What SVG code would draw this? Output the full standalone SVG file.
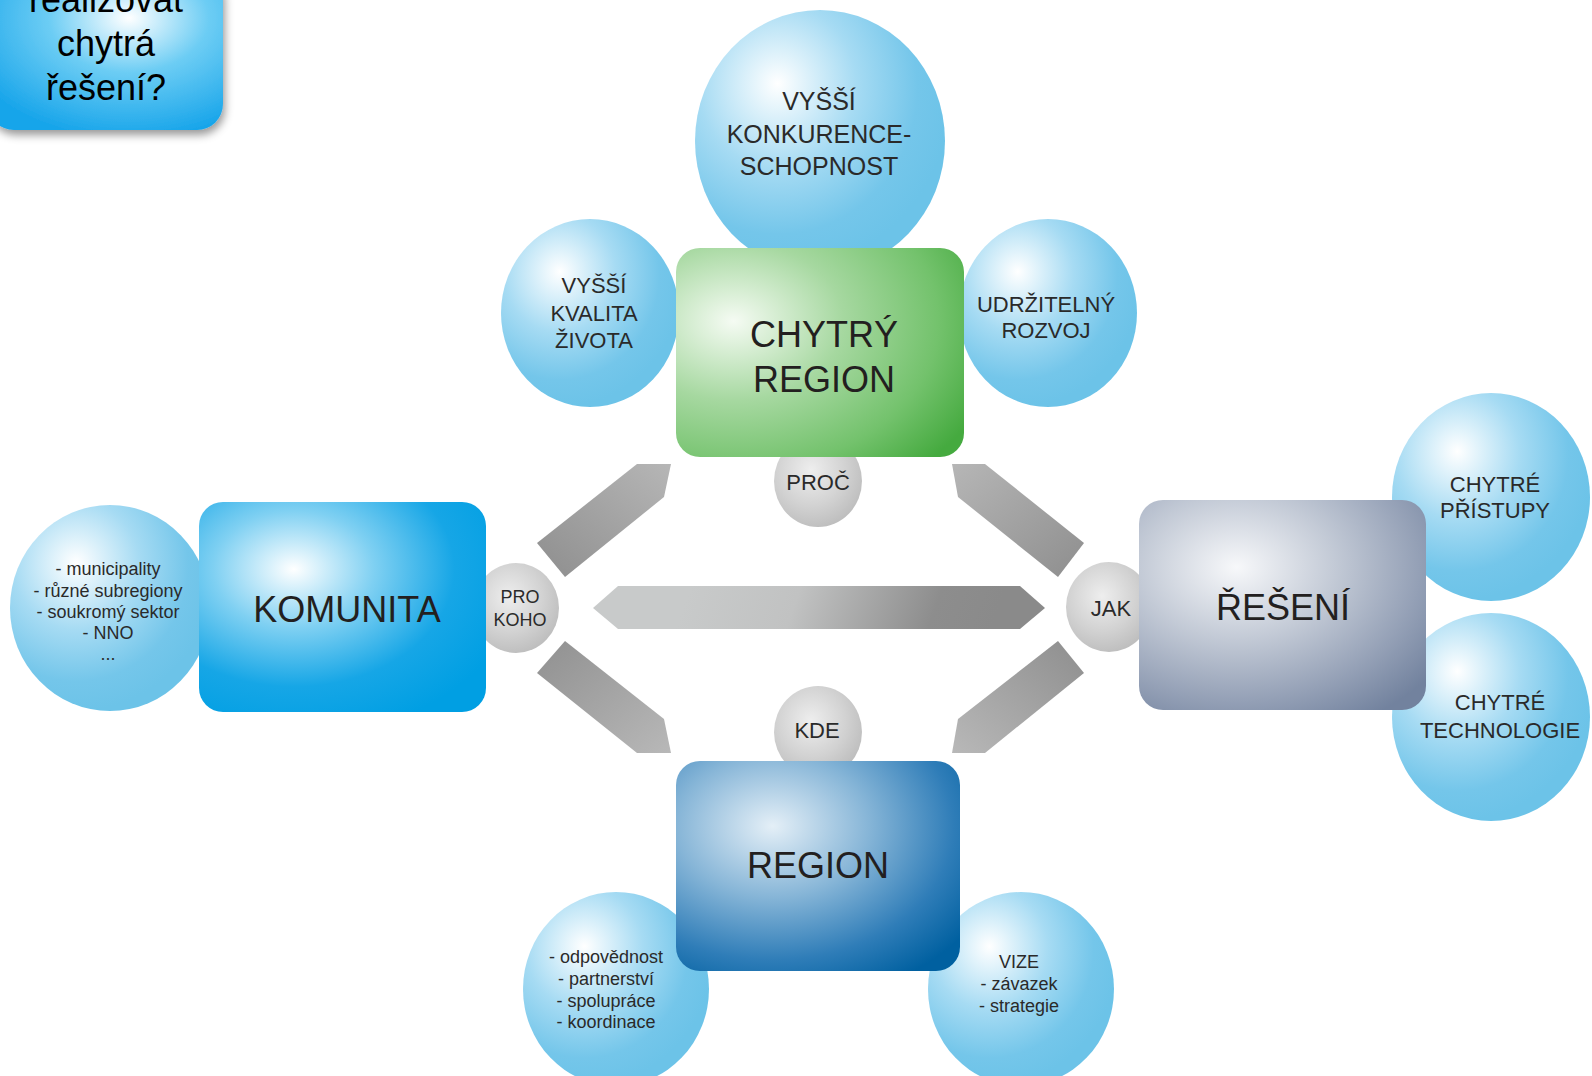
<svg xmlns="http://www.w3.org/2000/svg" width="1592" height="1076" viewBox="0 0 1592 1076">
<style>
text{font-family:"Liberation Sans",Arial,sans-serif;text-anchor:middle;fill:#2a2a2a}
.big{font-size:36px;fill:#231f20}
.mid{font-size:25px}
.sm{font-size:22px}
.xs{font-size:18px}
.q{font-size:36px;fill:#000}
</style>
<defs>
<radialGradient id="gBall" cx="0.33" cy="0.3" r="0.7" fx="0.33" fy="0.28">
<stop offset="0" stop-color="#ffffff"/>
<stop offset="0.45" stop-color="#a6dbf3"/>
<stop offset="0.8" stop-color="#74c6ea"/>
<stop offset="1" stop-color="#6cc3e8"/>
</radialGradient>
<radialGradient id="gGrey" cx="0.42" cy="0.38" r="0.65">
<stop offset="0" stop-color="#eeeeee"/>
<stop offset="0.6" stop-color="#d2d2d2"/>
<stop offset="1" stop-color="#bdbdbd"/>
</radialGradient>
<radialGradient id="gGreen" cx="0.2" cy="0.35" r="0.95">
<stop offset="0" stop-color="#f5fbf3"/>
<stop offset="0.4" stop-color="#a6d8a0"/>
<stop offset="0.75" stop-color="#73c26c"/>
<stop offset="1" stop-color="#45aa3f"/>
</radialGradient>
<radialGradient id="gKom" cx="0.33" cy="0.32" r="0.8">
<stop offset="0" stop-color="#ffffff"/>
<stop offset="0.35" stop-color="#7fd0f2"/>
<stop offset="0.7" stop-color="#16a6e6"/>
<stop offset="1" stop-color="#009fe3"/>
</radialGradient>
<radialGradient id="gRes" cx="0.34" cy="0.32" r="0.85">
<stop offset="0" stop-color="#f7f8fa"/>
<stop offset="0.4" stop-color="#c3cad6"/>
<stop offset="0.75" stop-color="#94a0b6"/>
<stop offset="1" stop-color="#72829e"/>
</radialGradient>
<radialGradient id="gReg" cx="0.34" cy="0.31" r="0.85">
<stop offset="0" stop-color="#e4eff7"/>
<stop offset="0.4" stop-color="#86b5d7"/>
<stop offset="0.75" stop-color="#2f7db8"/>
<stop offset="1" stop-color="#0060a0"/>
</radialGradient>
<radialGradient id="gQ" cx="0.6" cy="0.3" r="0.75">
<stop offset="0" stop-color="#ffffff"/>
<stop offset="0.45" stop-color="#6dcdf4"/>
<stop offset="1" stop-color="#18a5ea"/>
</radialGradient>
<linearGradient id="gArrH" gradientUnits="userSpaceOnUse" x1="700" y1="560" x2="980" y2="660">
<stop offset="0" stop-color="#c8caca"/>
<stop offset="0.35" stop-color="#c1c2c2"/>
<stop offset="0.8" stop-color="#8d8d8d"/>
<stop offset="1" stop-color="#8a8a8a"/>
</linearGradient>
<linearGradient id="gArrUL" x1="0" y1="1" x2="1" y2="0">
<stop offset="0" stop-color="#8e8e8e"/>
<stop offset="1" stop-color="#b6b6b6"/>
</linearGradient>
<linearGradient id="gArrUR" x1="1" y1="1" x2="0" y2="0">
<stop offset="0" stop-color="#8e8e8e"/>
<stop offset="1" stop-color="#b6b6b6"/>
</linearGradient>
<linearGradient id="gArrLL" x1="0" y1="0" x2="1" y2="1">
<stop offset="0" stop-color="#909090"/>
<stop offset="1" stop-color="#b8b8b8"/>
</linearGradient>
<linearGradient id="gArrLR" x1="1" y1="0" x2="0" y2="1">
<stop offset="0" stop-color="#8e8e8e"/>
<stop offset="1" stop-color="#b8b8b8"/>
</linearGradient>
<filter id="shadow" x="-20%" y="-20%" width="140%" height="150%">
<feDropShadow dx="2" dy="5" stdDeviation="4" flood-color="#000" flood-opacity="0.4"/>
</filter>
</defs>

<g id="connectors">
<polygon points="593,608 618,586 1020,586 1045,608 1020,629 618,629" fill="url(#gArrH)"/>
<polygon points="537,543 637,464 671,464 664,497 565,577" fill="url(#gArrUL)"/>
<polygon points="952,464 985,464 1084,543 1058,577 958,497" fill="url(#gArrUR)"/>
<polygon points="537,673 565,641 664,719 671,753 637,753" fill="url(#gArrLL)"/>
<polygon points="1084,673 1058,641 958,719 952,753 985,753" fill="url(#gArrLR)"/>
</g>

<g id="question">
<rect x="-12" y="-30" width="235" height="160" rx="26" fill="url(#gQ)" filter="url(#shadow)"/>
<text class="q" x="106" y="12">realizovat</text>
<text class="q" x="106" y="56">chytrá</text>
<text class="q" x="106" y="100">řešení?</text>
</g>

<g id="n-konkurence">
<ellipse cx="820" cy="141" rx="125" ry="131" fill="url(#gBall)"/>
<text class="mid" x="819" y="110">VYŠŠÍ</text>
<text class="mid" x="819" y="143">KONKURENCE-</text>
<text class="mid" x="819" y="175">SCHOPNOST</text>
</g>

<g id="n-kvalita">
<ellipse cx="590" cy="313" rx="89" ry="94" fill="url(#gBall)"/>
<text class="sm" x="594" y="293">VYŠŠÍ</text>
<text class="sm" x="594" y="321">KVALITA</text>
<text class="sm" x="594" y="348">ŽIVOTA</text>
</g>

<g id="n-udrzitelny">
<ellipse cx="1048" cy="313" rx="89" ry="94" fill="url(#gBall)"/>
<text class="sm" x="1046" y="312">UDRŽITELNÝ</text>
<text class="sm" x="1046" y="338">ROZVOJ</text>
</g>

<g id="n-proc">
<ellipse cx="818" cy="481" rx="44" ry="46" fill="url(#gGrey)"/>
<text class="sm" x="818" y="490">PROČ</text>
</g>

<g id="n-kde">
<ellipse cx="818" cy="732" rx="44" ry="46" fill="url(#gGrey)"/>
<text class="sm" x="817" y="738">KDE</text>
</g>

<g id="n-prokoho">
<ellipse cx="516" cy="608" rx="43" ry="45" fill="url(#gGrey)"/>
<text class="xs" x="520" y="603">PRO</text>
<text class="xs" x="520" y="626">KOHO</text>
</g>

<g id="n-jak">
<ellipse cx="1109" cy="607" rx="43" ry="45" fill="url(#gGrey)"/>
<text class="sm" x="1111" y="616">JAK</text>
</g>

<g id="n-aktери">
<ellipse cx="110" cy="608" rx="100" ry="103" fill="url(#gBall)"/>
<text class="xs" x="108" y="575">- municipality</text>
<text class="xs" x="108" y="597">- různé subregiony</text>
<text class="xs" x="108" y="618">- soukromý sektor</text>
<text class="xs" x="108" y="639">- NNO</text>
<text class="xs" x="108" y="660">...</text>
</g>

<g id="n-pristupy">
<ellipse cx="1491" cy="497" rx="99" ry="104" fill="url(#gBall)"/>
<text class="sm" x="1495" y="492">CHYTRÉ</text>
<text class="sm" x="1495" y="518">PŘÍSTUPY</text>
</g>

<g id="n-technologie">
<ellipse cx="1491" cy="717" rx="99" ry="104" fill="url(#gBall)"/>
<text class="sm" x="1500" y="710">CHYTRÉ</text>
<text class="sm" x="1500" y="738">TECHNOLOGIE</text>
</g>

<g id="n-odpovednost">
<ellipse cx="616" cy="989" rx="93" ry="97" fill="url(#gBall)"/>
<text class="xs" x="606" y="963">- odpovědnost</text>
<text class="xs" x="606" y="985">- partnerství</text>
<text class="xs" x="606" y="1007">- spolupráce</text>
<text class="xs" x="606" y="1028">- koordinace</text>
</g>

<g id="n-vize">
<ellipse cx="1021" cy="989" rx="93" ry="97" fill="url(#gBall)"/>
<text class="xs" x="1019" y="968">VIZE</text>
<text class="xs" x="1019" y="990">- závazek</text>
<text class="xs" x="1019" y="1012">- strategie</text>
</g>

<g id="n-chytry-region">
<rect x="676" y="248" width="288" height="209" rx="24" fill="url(#gGreen)"/>
<text class="big" x="824" y="347">CHYTRÝ</text>
<text class="big" x="824" y="392">REGION</text>
</g>

<g id="n-komunita">
<rect x="199" y="502" width="287" height="210" rx="24" fill="url(#gKom)"/>
<text class="big" x="347" y="622">KOMUNITA</text>
</g>

<g id="n-reseni">
<rect x="1139" y="500" width="287" height="210" rx="24" fill="url(#gRes)"/>
<text class="big" x="1283" y="620">ŘEŠENÍ</text>
</g>

<g id="n-region">
<rect x="676" y="761" width="284" height="210" rx="24" fill="url(#gReg)"/>
<text class="big" x="818" y="878">REGION</text>
</g>
</svg>
